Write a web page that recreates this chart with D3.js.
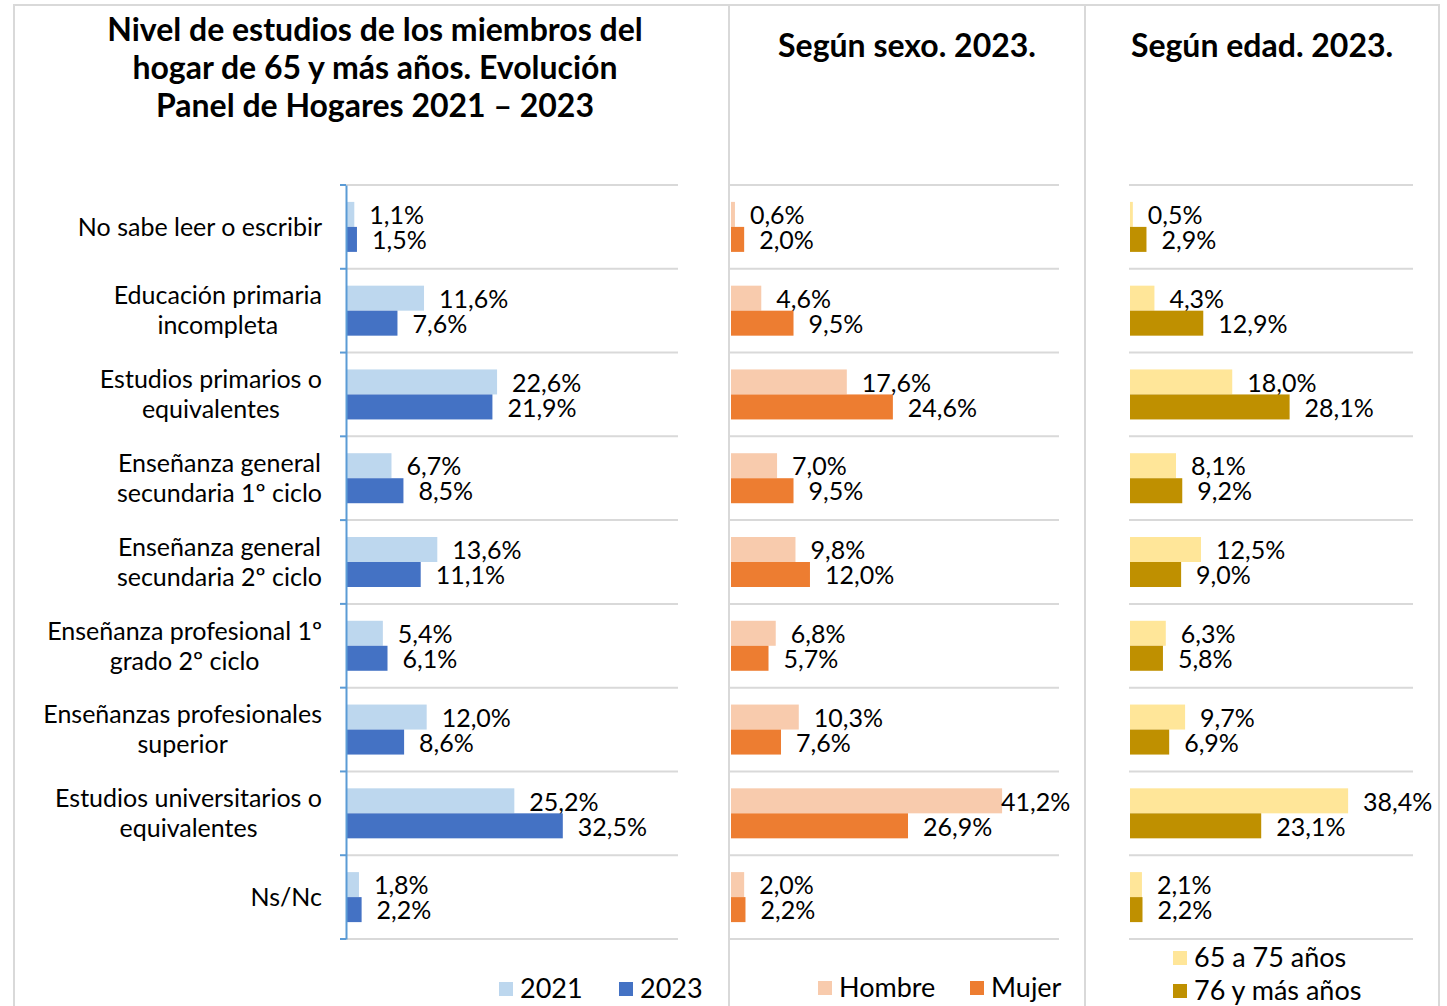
<!DOCTYPE html>
<html>
<head>
<meta charset="utf-8">
<script src="https://cdn.jsdelivr.net/npm/d3@7"></script>
<style>
  body { margin: 0; background: #fff; }
  text { font-family: Lato, "Noto Sans", sans-serif; fill: #000; }
</style>
</head>
<body>
<div id="chart"></div>
<script>
// categories (tick labels, "\n" = line break)
var categories = [
  "No sabe leer o escribir",
  "Educación primaria\nincompleta",
  "Estudios primarios o\nequivalentes",
  "Enseñanza general\nsecundaria 1º ciclo",
  "Enseñanza general\nsecundaria 2º ciclo",
  "Enseñanza profesional 1º\ngrado 2º ciclo",
  "Enseñanzas profesionales\nsuperior",
  "Estudios universitarios o\nequivalentes",
  "Ns/Nc"
];

// panel 1: evolución
var values2021 = [1.1, 11.6, 22.6, 6.7, 13.6, 5.4, 12.0, 25.2, 1.8];
var values2023 = [1.5, 7.6, 21.9, 8.5, 11.1, 6.1, 8.6, 32.5, 2.2];
// panel 2: según sexo
var hombre = [0.6, 4.6, 17.6, 7.0, 9.8, 6.8, 10.3, 41.2, 2.0];
var mujer = [2.0, 9.5, 24.6, 9.5, 12.0, 5.7, 7.6, 26.9, 2.2];
// panel 3: según edad
var edad65a75 = [0.5, 4.3, 18.0, 8.1, 12.5, 6.3, 9.7, 38.4, 2.1];
var edad76mas = [2.9, 12.9, 28.1, 9.2, 9.0, 5.8, 6.9, 23.1, 2.2];

var W = 1447, H = 1006;
var svg = d3.select("#chart").append("svg")
  .attr("width", W).attr("height", H);

var fmt = function(v) { return d3.format(".1f")(v).replace(".", ",") + "%"; };

var y = d3.scaleBand()
  .domain(d3.range(categories.length))
  .range([185, 939]);
var barH = 25;

// outer frame + separators
var frameColor = "#d9d9d9";
svg.append("line").attr("x1", 14).attr("x2", 1440).attr("y1", 5).attr("y2", 5)
  .attr("stroke", frameColor).attr("stroke-width", 2);
[14, 729, 1085, 1439].forEach(function(x) {
  svg.append("line").attr("x1", x).attr("x2", x).attr("y1", 4).attr("y2", H)
    .attr("stroke", frameColor).attr("stroke-width", 2);
});

var panels = [
  { x0: 346, x1: 678, a: values2021, b: values2023, ca: "#bdd7ee", cb: "#4472c4", labelMax: 720 },
  { x0: 730, x1: 1059, a: hombre, b: mujer, ca: "#f8cbad", cb: "#ed7d31", labelMax: 1070 },
  { x0: 1129, x1: 1413, a: edad65a75, b: edad76mas, ca: "#ffe699", cb: "#bf9000", labelMax: 1434 }
];

panels.forEach(function(p) {
  var x = d3.scaleLinear().domain([0, 50]).range([p.x0, p.x1]);
  var g = svg.append("g");

  // gridlines (horizontal, at band edges)
  var edges = d3.range(categories.length).map(function(i) { return y(i); }).concat([y.range()[1]]);
  g.selectAll(".grid").data(edges).enter().append("line")
    .attr("x1", p.x0).attr("x2", p.x1)
    .attr("y1", function(d) { return d; }).attr("y2", function(d) { return d; })
    .attr("stroke", "#d9d9d9").attr("stroke-width", 2);

  var series = [
    { vals: p.a, color: p.ca, off: -barH },
    { vals: p.b, color: p.cb, off: 0 }
  ];
  series.forEach(function(s) {
    var top = function(i) { return y(i) + y.bandwidth() / 2 + s.off; };
    g.selectAll(null).data(s.vals).enter().append("rect")
      .attr("x", x(0) + 1)
      .attr("y", function(d, i) { return top(i); })
      .attr("width", function(d) { return x(d) - x(0); })
      .attr("height", barH)
      .attr("fill", s.color);

    g.selectAll(null).data(s.vals).enter().append("text")
      .attr("x", function(d) { return x(d) + 16; })
      .attr("y", function(d, i) { return top(i) + barH / 2 + 1; })
      .attr("dy", "0.35em")
      .style("font-size", "25px")
      .text(fmt)
      .each(function(d) {
        var w = this.getComputedTextLength();
        var lx = x(d) + 16;
        if (lx + w > p.labelMax) this.setAttribute("x", x(d));
      });
  });
});

// panel 1 axis (blue) with tick marks
var axisG = svg.append("g").attr("transform", "translate(346,0)");
axisG.call(d3.axisLeft(y).tickValues([]).tickSizeOuter(0));
axisG.select(".domain").attr("stroke", "#5b9bd5").attr("stroke-width", 2);
var tickEdges = d3.range(categories.length).map(function(i) { return y(i); }).concat([y.range()[1]]);
axisG.selectAll(".tk").data(tickEdges).enter().append("line")
  .attr("x1", -6).attr("x2", 0)
  .attr("y1", function(d) { return d; }).attr("y2", function(d) { return d; })
  .attr("stroke", "#5b9bd5").attr("stroke-width", 2);

// category labels (block right-aligned, lines centered)
categories.forEach(function(c, i) {
  var lines = c.split("\n");
  var cy = y(i) + y.bandwidth() / 2;
  var t = svg.append("text").style("font-size", "25px").attr("text-anchor", "middle");
  lines.forEach(function(l, j) {
    t.append("tspan").text(l)
      .attr("y", cy + (j - (lines.length - 1) / 2) * 30)
      .attr("dy", "0.35em");
  });
  var maxW = 0;
  t.selectAll("tspan").each(function() { maxW = Math.max(maxW, this.getComputedTextLength()); });
  t.selectAll("tspan").attr("x", 322 - maxW / 2);
});

// titles
var title1 = ["Nivel de estudios de los miembros del", "hogar de 65 y más años. Evolución", "Panel de Hogares 2021 – 2023"];
title1.forEach(function(l, i) {
  svg.append("text").attr("x", 375).attr("y", 41 + i * 38)
    .attr("text-anchor", "middle").style("font-size", "32px").style("font-weight", "bold")
    .text(l);
});
svg.append("text").attr("x", 907).attr("y", 57).attr("text-anchor", "middle")
  .style("font-size", "32px").style("font-weight", "bold").text("Según sexo. 2023.");
svg.append("text").attr("x", 1262).attr("y", 57).attr("text-anchor", "middle")
  .style("font-size", "32px").style("font-weight", "bold").text("Según edad. 2023.");

// legends
var legends = [
  { items: ["2021", "2023"], colors: ["#bdd7ee", "#4472c4"], xs: [499, 619], ys: [989, 989] },
  { items: ["Hombre", "Mujer"], colors: ["#f8cbad", "#ed7d31"], xs: [818, 970], ys: [988, 988] },
  { items: ["65 a 75 años", "76 y más años"], colors: ["#ffe699", "#bf9000"], xs: [1173, 1173], ys: [958, 991] }
];
legends.forEach(function(lg) {
  lg.items.forEach(function(it, i) {
    svg.append("rect").attr("x", lg.xs[i]).attr("y", lg.ys[i] - 7)
      .attr("width", 14).attr("height", 14).attr("fill", lg.colors[i]);
    svg.append("text").attr("x", lg.xs[i] + 21).attr("y", lg.ys[i]).attr("dy", "0.35em")
      .style("font-size", "27px").text(it);
  });
});
</script>
</body>
</html>
